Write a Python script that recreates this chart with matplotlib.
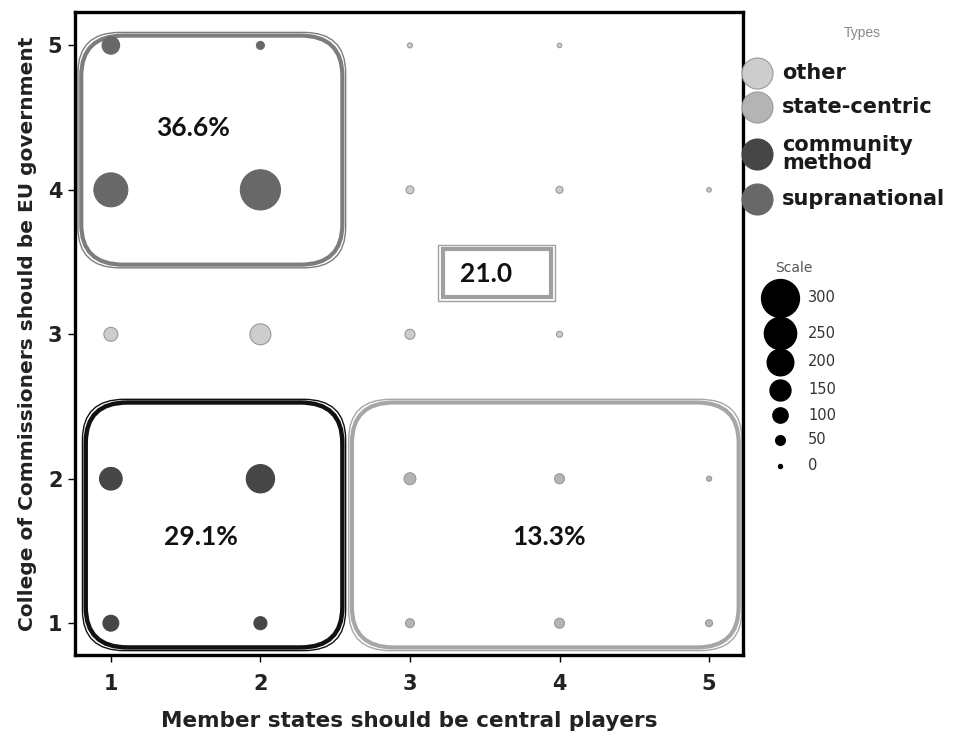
import matplotlib
matplotlib.use("Agg")
import matplotlib.pyplot as plt
from matplotlib.patches import FancyBboxPatch, Rectangle

# bubble data per type (x, y, count)
supra_x = [1, 2, 1, 2]
supra_y = [5, 5, 4, 4]
supra_n = [120, 35, 265, 320]

comm_x = [1, 2, 1, 2]
comm_y = [2, 2, 1, 1]
comm_n = [165, 215, 105, 80]

state_x = [3, 4, 5, 3, 4, 5]
state_y = [2, 2, 2, 1, 1, 1]
state_n = [70, 53, 10, 44, 53, 27]

other_x = [1, 2, 3, 4, 3, 4, 5, 3, 4]
other_y = [3, 3, 3, 3, 4, 4, 4, 5, 5]
other_n = [88, 150, 53, 18, 35, 27, 5, 9, 5]

type_names = ["other", "state-centric", "community\nmethod", "supranational"]
type_colors = ["#cdcdcd", "#b4b4b4", "#464646", "#686868"]
scale_vals = [300, 250, 200, 150, 100, 50, 0]

# region shares
regions = ["36.6%", "29.1%", "13.3%", "21.0"]


def bubble_size(n):
    # diameter in px -> area in pt^2 (dpi 100)
    d = (4 + 0.113 * n) * 0.72
    return d * d


fig = plt.figure(figsize=(9.55, 7.38), dpi=100)
ax = fig.add_axes([0.0785, 0.1125, 0.7, 0.871])

series = [(other_x, other_y, other_n), (state_x, state_y, state_n),
          (comm_x, comm_y, comm_n), (supra_x, supra_y, supra_n)]
for (xs, ys, ns), c in zip(series, type_colors):
    ax.scatter(xs, ys, s=[bubble_size(n) for n in ns], c=c,
               edgecolors="#999999" if c in ("#cdcdcd", "#b4b4b4") else c,
               linewidths=0.8, zorder=3)

ax.set_xlim(0.76, 5.23)
ax.set_ylim(0.78, 5.23)
ax.set_xticks([1, 2, 3, 4, 5])
ax.set_yticks([1, 2, 3, 4, 5])
for s in ax.spines.values():
    s.set_linewidth(2.4)
ax.tick_params(length=5, width=1, labelsize=15)
ax.tick_params(axis="x", pad=9)
ax.tick_params(axis="y", pad=4)
for lab in ax.get_xticklabels() + ax.get_yticklabels():
    lab.set_fontfamily("DejaVu Sans")
    lab.set_fontweight("bold")
    lab.set_color("#222222")

ax.set_xlabel("Member states should be central players", fontsize=15.5,
              fontfamily="DejaVu Sans", fontweight="bold", labelpad=12, color="#222222")
ax.set_ylabel("College of Commissioners should be EU government", fontsize=14.5,
              fontfamily="DejaVu Sans", fontweight="bold", labelpad=8, color="#222222")


def rbox(x0, y0, x1, y1, color, lw_outer, lw_inner):
    r = 0.28
    outer = FancyBboxPatch((x0 + r, y0 + r), x1 - x0 - 2 * r, y1 - y0 - 2 * r,
                           boxstyle="round,pad=%f" % r, fill=False,
                           ec=color, lw=lw_outer, zorder=2)
    g = 0.022
    inner = FancyBboxPatch((x0 + r + g, y0 + r + g), x1 - x0 - 2 * (r + g), y1 - y0 - 2 * (r + g),
                           boxstyle="round,pad=%f" % r, fill=False,
                           ec=color, lw=lw_inner, zorder=2)
    ax.add_patch(outer)
    ax.add_patch(inner)


rbox(0.78, 3.46, 2.57, 5.09, "#7d7d7d", 1.0, 3.0)
rbox(0.81, 0.81, 2.57, 2.55, "#111111", 1.0, 3.2)
rbox(2.59, 0.81, 5.22, 2.55, "#a6a6a6", 1.0, 3.0)

ax.add_patch(Rectangle((3.19, 3.23), 0.78, 0.39, fill=False, ec="#a0a0a0", lw=1.0, zorder=2))
ax.add_patch(Rectangle((3.22, 3.26), 0.72, 0.33, fill=False, ec="#a0a0a0", lw=3.0, zorder=2))

txt_kw = dict(fontsize=19, fontfamily="Lato", fontweight="bold", ha="center", va="center", color="#111111")
ax.text(1.55, 4.43, regions[0], **txt_kw)
ax.text(1.6, 1.6, regions[1], **txt_kw)
ax.text(3.93, 1.6, regions[2], **txt_kw)
ax.text(3.51, 3.42, regions[3], **txt_kw)

# legend drawn in pixel coordinates of the figure
lg = fig.add_axes([0, 0, 1, 1])
lg.set_xlim(0, 955)
lg.set_ylim(738, 0)
lg.axis("off")
lg.patch.set_alpha(0)

lg.text(862, 33, "Types", fontsize=10, color="#888888", ha="center", va="center",
        fontfamily="Liberation Sans")
type_y = [73, 107, 154, 199]
for name, c, ty in zip(type_names, type_colors, type_y):
    lg.scatter([757], [ty], s=(31 * 0.72) ** 2, c=c,
               edgecolors="#9a9a9a" if c in ("#cdcdcd", "#b4b4b4") else c, lw=0.8)
    lg.text(782, ty, name, fontsize=15, fontfamily="DejaVu Sans", fontweight="bold",
            color="#1a1a1a", ha="left", va="center", linespacing=0.9)

lg.text(775, 268, "Scale", fontsize=10, color="#555555", ha="left", va="center",
        fontfamily="DejaVu Sans")
scale_y = [298, 333, 362, 390, 415, 440, 466]
for v, sy in zip(scale_vals, scale_y):
    lg.scatter([780], [sy], s=bubble_size(v), c="black")
    lg.text(808, sy, str(v), fontsize=10.5, color="#333333", ha="left", va="center",
            fontfamily="DejaVu Sans")

fig.savefig("out.png", dpi=100)
